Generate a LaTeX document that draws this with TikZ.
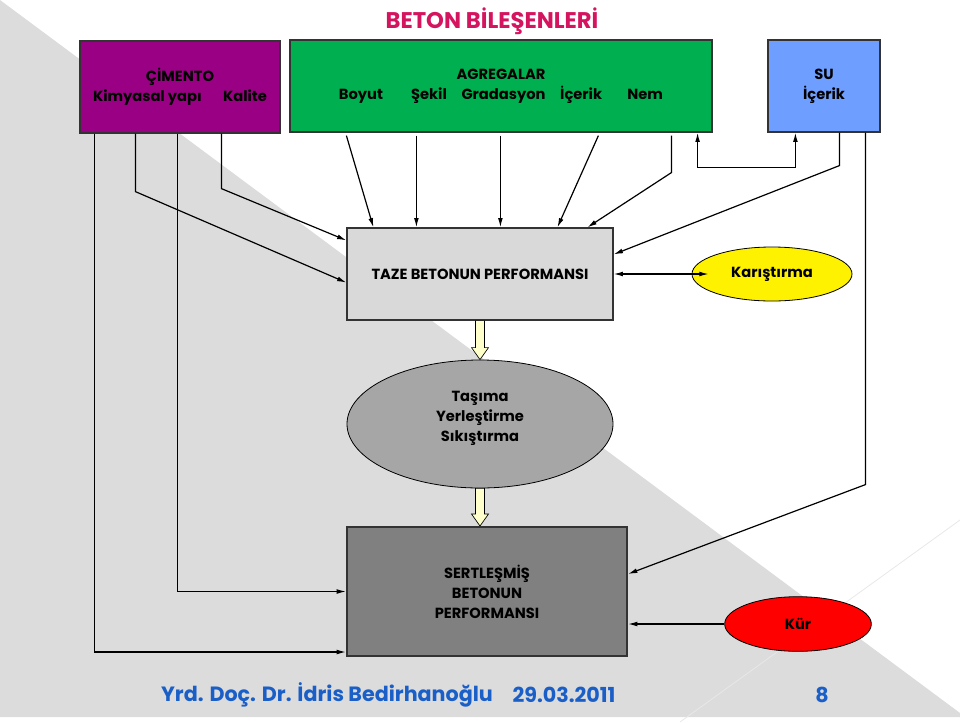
\documentclass[tikz,border=0pt]{standalone}
\usepackage{fontspec}
\setmainfont{Poppins}
\usetikzlibrary{calc,arrows.meta,shapes.geometric}
\definecolor{bgcol}{HTML}{DCDCDC}
\definecolor{titlecol}{HTML}{D5145F}
\definecolor{footcol}{HTML}{1A5FC8}
\definecolor{cimcol}{HTML}{9A0083}
\definecolor{aggcol}{HTML}{00B050}
\definecolor{sucol}{HTML}{6E9EFF}
\definecolor{tazecol}{HTML}{D9D9D9}
\definecolor{tascol}{HTML}{A6A6A6}
\definecolor{sertcol}{HTML}{808080}
\definecolor{fatcol}{HTML}{FFFFCC}
\tikzset{
  ltip/.tip={Latex[length=7pt,width=3.6pt]},
  lbl/.style={font=\bfseries\fontsize{11}{15}\selectfont},
  box/.style={lbl,rectangle,draw=black!80,line width=0.9pt,align=center,inner sep=0pt},
  oval/.style={lbl,ellipse,draw=black,line width=0.6pt,align=center,inner sep=0pt},
  wire/.style={line width=0.9pt},
  link/.style={wire,-ltip},
  fat/.style={draw=black,line width=0.5pt,fill=fatcol},
  big/.style={font=\bfseries\fontsize{17}{20}\selectfont}
}
\begin{document}
\begin{tikzpicture}[x=0.75pt,y=-0.75pt]
    \useasboundingbox (0,0) rectangle (960,722);
    %% background
    \fill[bgcol] (0,0) -- (960,713) -- (960,717) -- (0,717) -- cycle;
    \draw[black!9,line width=0.6pt] (680,722) -- (960,520);
    \node[big,text=titlecol] (title) at (492,21) {BETON BİLEŞENLERİ};
    %% components
    \node[box,fill=cimcol,minimum width=150pt,minimum height=69pt] (cim) at (180,87)
        {ÇİMENTO\\Kimyasal yapı\hspace{16pt}Kalite};
    \node[box,fill=aggcol,minimum width=316.5pt,minimum height=69pt] (agg) at (501,86)
        {AGREGALAR\\Boyut\hspace{21pt}Şekil\hspace{11pt}Gradasyon\hspace{11pt}İçerik\hspace{19pt}Nem};
    \node[box,fill=sucol,minimum width=84pt,minimum height=69pt] (su) at (824,86) {SU\\İçerik};
    %% performance
    \node[box,fill=tazecol,minimum width=199.5pt,minimum height=69pt] (taze) at (480,274)
        {TAZE BETONUN PERFORMANSI};
    \node[oval,fill=yellow,minimum width=120pt,minimum height=40.5pt] (kar) at (772,274) {Karıştırma};
    \node[oval,fill=tascol,minimum width=199.5pt,minimum height=96pt,text depth=12pt] (tas) at (480,424)
        {Taşıma\\Yerleştirme\\Sıkıştırma};
    \node[box,fill=sertcol,line width=1.5pt,minimum width=210pt,minimum height=96.75pt] (sert) at (487,591.5)
        {SERTLEŞMİŞ\\BETONUN\\PERFORMANSI};
    \node[oval,fill=red,minimum width=110pt,minimum height=41pt] (kur) at (798,624) {Kür};
    %% cement
    \draw[link] ($(cim.south west)+(15,0)$) |- ($(sert.south west)+(0,-5)$);
    \draw[link] ($(cim.south west)+(98,0)$) |- (sert.west);
    \draw[link] ($(cim.south west)+(56,0)$) -- ++(0,58) -- ($(taze.south west)+(0,-38)$);
    \draw[link] ($(cim.south west)+(142,0)$) -- ++(0,55) -- ($(taze.north west)+(0,13)$);
    %% aggregates
    \foreach \a/\b in {57/27,127/70,211/154,309/211}
        \draw[link] ($(agg.south west)+(\a,3)$) -- ($(taze.north west)+(\b,0)$);
    \draw[link] ($(agg.south west)+(382,3)$) -- ++(0,37) -- ($(taze.north west)+(241,0)$);
    %% water
    \draw[wire,ltip-ltip] ($(agg.south east)+(-15,0)$) -- ++(0,35) -| ($(su.south west)+(28,0)$);
    \draw[link] ($(su.south west)+(72,0)$) -- ++(0,33) -- ($(taze.north east)+(0,27)$);
    \draw[link] ($(su.south west)+(98,0)$) -- ++(0,352) -- ($(sert.north east)+(0,48)$);
    %% mixing, curing
    \draw[wire,ltip-ltip] (taze.east) -- ($(kar.west)+(17,0)$);
    \draw[link] (kur.west) -- (kur.west -| sert.east);
    %% stage arrows
    \foreach \s/\t in {taze/tas,tas/sert} {
        \coordinate (tip) at (\s.south |- \t.north);
        \draw[fat] ($(\s.south)+(-4.5,0)$) -- ($(tip)+(-4.5,-12)$) -- ($(tip)+(-8.5,-12)$) -- (tip)
            -- ($(tip)+(8.5,-12)$) -- ($(tip)+(4.5,-12)$) -- ($(\s.south)+(4.5,0)$) -- cycle;
    }
    %% footer
    \node[big,text=footcol,font=\bfseries\fontsize{15.5}{20}\selectfont] (who) at (327,695) {Yrd. Doç. Dr. İdris Bedirhanoğlu};
    \node[big,text=footcol,font=\bfseries\fontsize{15.5}{20}\selectfont] (date) at (564,695) {29.03.2011};
    \node[big,text=footcol,font=\bfseries\fontsize{15.5}{20}\selectfont] (page) at (822,695) {8};
\end{tikzpicture}
\end{document}
